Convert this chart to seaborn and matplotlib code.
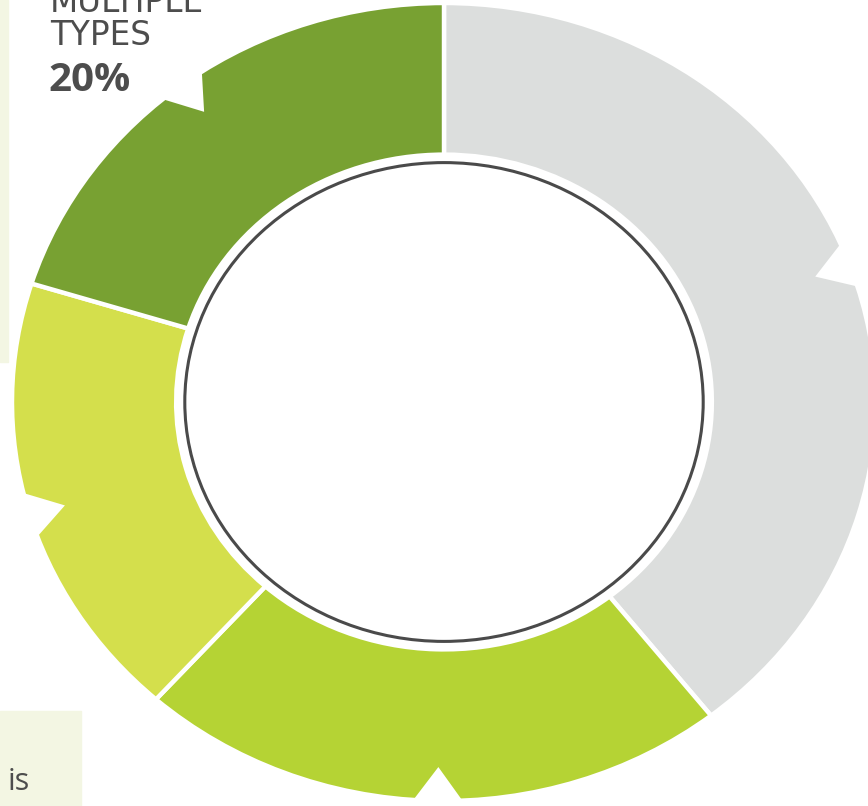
import numpy as np
import matplotlib
matplotlib.use("Agg")
import matplotlib.pyplot as plt
import seaborn as sns
from matplotlib.patches import Polygon, Circle, Rectangle

# data: clockwise from 12 o'clock
categories = ["Other", "Type B", "Type C", "Multiple types"]
shares = [39, 22, 18, 20]
colors = ["#dcdedd", "#b5d334", "#d4df4c", "#78a132"]

sns.set_theme(style="white")
plt.rcParams['font.family'] = ['DejaVu Sans']

W, H = 868, 806
fig = plt.figure(figsize=(W / 100, H / 100), dpi=100)
ax = fig.add_axes([0, 0, 1, 1])

wedges, _ = ax.pie(shares, colors=sns.color_palette(colors), startangle=90,
                   counterclock=False, radius=1.0,
                   wedgeprops=dict(width=0.38, edgecolor="white", linewidth=3.2))

# notches on the outer rim, one in the middle of each slice
fracs = np.array(shares) / np.sum(shares)
ends = 90 - np.cumsum(fracs) * 360
starts = ends + fracs * 360
for s, e in zip(starts, ends):
    mid = np.radians((s + e) / 2 + 1.0)
    half = np.radians(5.5)
    pts = [(1.07 * np.cos(mid + half), 1.07 * np.sin(mid + half)),
           (0.915 * np.cos(mid), 0.915 * np.sin(mid)),
           (1.07 * np.cos(mid - half), 1.07 * np.sin(mid - half))]
    ax.add_patch(Polygon(pts, closed=True, facecolor="white", edgecolor="none", zorder=5))

# inner ring outline
ax.add_patch(Circle((0, 0), 0.60, facecolor="white", edgecolor="#4a4a4a",
                    linewidth=2.2, zorder=6))

ax.set_aspect("auto")
ax.set_xlim(-444 / 432, 424 / 432)
ax.set_ylim(-(H - 402) / 399, 402 / 399)
ax.axis("off")

# page panels around the chart
fig.patches.append(Rectangle((0, 1 - 362 / H), 8 / W, 362 / H, transform=fig.transFigure,
                             color="#f3f6e3", zorder=0))
fig.patches.append(Rectangle((0, 0), 81 / W, 95 / H, transform=fig.transFigure,
                             color="#f3f6e3", zorder=0))

# label for the dark green slice
fig.text(50 / W, 1 - 12 / H, "MULTIPLE", fontsize=23.5, color="#4d4d4d",
         ha="left", va="baseline")
fig.text(50 / W, 1 - 45 / H, "TYPES", fontsize=23.5, color="#4d4d4d",
         ha="left", va="baseline")
fig.text(48 / W, 1 - 91 / H, "20%", fontsize=29, fontweight="bold",
         color="#4d4d4d", ha="left", va="baseline", family="Open Sans")

fig.text(8 / W, 1 - 790 / H, "is", fontsize=22, color="#4d4d4d",
         ha="left", va="baseline", family="Open Sans")

fig.savefig("out.png", dpi=100, facecolor="white")
